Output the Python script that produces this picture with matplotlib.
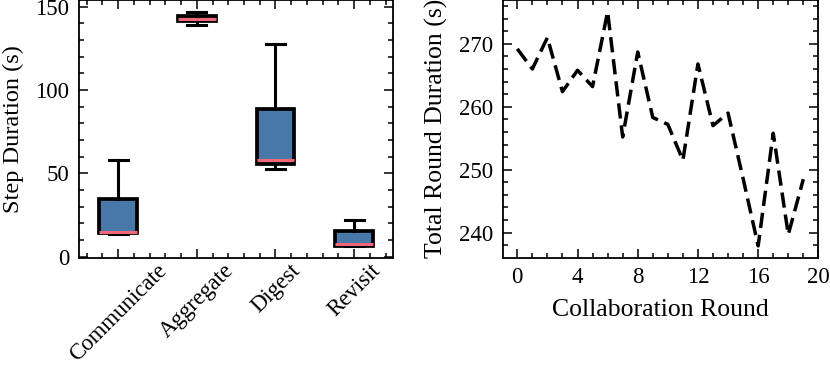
import matplotlib
matplotlib.use('Agg')
import matplotlib.pyplot as plt
from matplotlib.ticker import AutoMinorLocator, MultipleLocator

plt.rcParams['font.family'] = ['Liberation Serif', 'DejaVu Serif']
plt.rcParams['mathtext.fontset'] = 'stix'

# step durations, box stats
steps = ['Communicate', 'Aggregate', 'Digest', 'Revisit']
whislo = [13.8, 139.0, 52.8, 6.4]
q1 = [14.2, 141.4, 55.8, 6.6]
med = [15.0, 142.8, 57.8, 7.4]
q3 = [34.4, 144.4, 88.8, 15.4]
whishi = [57.8, 147.0, 127.8, 21.8]

# total round duration per collaboration round
rounds = list(range(20))
round_dur = [269.2, 266.0, 271.0, 262.4, 265.8, 263.2, 275.1, 255.2, 268.7, 258.3,
             257.2, 251.5, 266.8, 257.0, 259.0, 248.6, 237.9, 255.8, 239.7, 248.5]


def style_ax(ax):
    ax.tick_params(which='both', direction='in', top=True, right=True,
                   labelsize=16.5, width=1.1, pad=7)
    ax.tick_params(which='major', length=6.5)
    ax.tick_params(which='minor', length=3.5)
    for s in ax.spines.values():
        s.set_linewidth(1.3)


fig = plt.figure(figsize=(8.3, 3.68), dpi=100)
ax1 = fig.add_axes([0.095, 0.30, 0.379, 0.70])
ax2 = fig.add_axes([0.606, 0.30, 0.380, 0.70])

stats = []
for i, name in enumerate(steps):
    stats.append(dict(label=name, whislo=whislo[i], q1=q1[i], med=med[i],
                      q3=q3[i], whishi=whishi[i], fliers=[]))
ax1.bxp(stats, patch_artist=True, widths=0.48, showfliers=False,
        boxprops=dict(facecolor='#4878a8', edgecolor='black', linewidth=2.7),
        medianprops=dict(color='#f06878', linewidth=2.2),
        whiskerprops=dict(color='black', linewidth=2.2),
        capprops=dict(color='black', linewidth=2.2))
ax1.set_ylabel('Step Duration (s)', fontsize=17.5, labelpad=8)
ax1.set_yticks([0, 50, 100, 150])
ax1.yaxis.set_minor_locator(MultipleLocator(10))
ax1.xaxis.set_minor_locator(AutoMinorLocator(5))
style_ax(ax1)
ax1.tick_params(axis='x', which='both', pad=2)
for lab in ax1.get_xticklabels():
    lab.set_rotation(45)
    lab.set_ha('center')

ax2.plot(rounds, round_dur, color='black', linestyle='--', linewidth=2.5,
         dashes=(4.4, 2))
ax2.set_xlim(-0.95, 20.0)
ax2.set_xlabel('Collaboration Round', fontsize=18.5, labelpad=8)
ax2.set_ylabel('Total Round Duration (s)', fontsize=18.5, labelpad=8)
ax2.xaxis.set_major_locator(MultipleLocator(4))
ax2.xaxis.set_minor_locator(MultipleLocator(1))
ax2.yaxis.set_major_locator(MultipleLocator(10))
ax2.yaxis.set_minor_locator(MultipleLocator(2))
style_ax(ax2)

fig.savefig('out.png', dpi=100)
